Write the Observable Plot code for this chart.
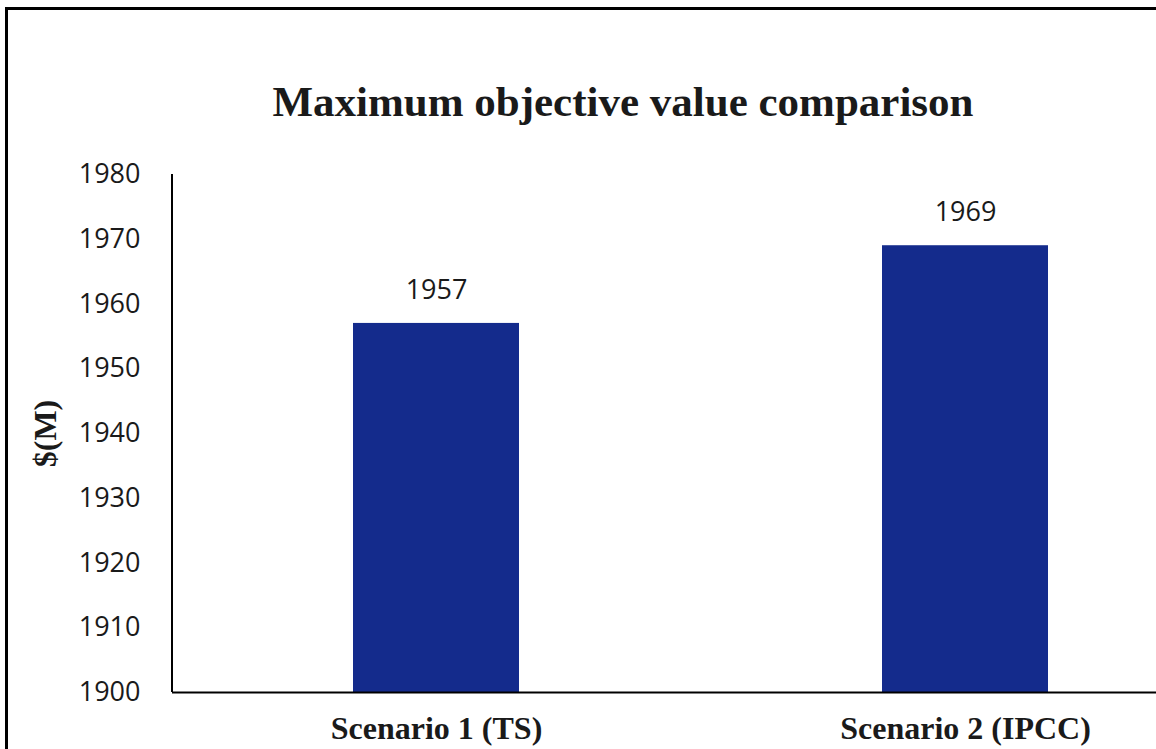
<!DOCTYPE html>
<html>
<head>
<meta charset="utf-8">
<script src="https://cdn.jsdelivr.net/npm/d3@7"></script>
<script src="https://cdn.jsdelivr.net/npm/@observablehq/plot@0.6"></script>
<style>
  html, body { margin: 0; padding: 0; background: #fff; overflow: hidden; width: 1156px; height: 749px; }
  #frame { position: absolute; left: 5px; top: 7px; width: 2000px; height: 2000px; border-left: 3px solid #000; border-top: 3px solid #000; box-sizing: border-box; }
  #title { position: absolute; left: 0; top: 80px; width: 1246px; text-align: center; font: bold 43px/43px "Liberation Serif", "Times New Roman", serif; color: #1a1a1a; white-space: nowrap; }
  #chart { position: absolute; left: 0; top: 150px; }
</style>
</head>
<body>
<div id="frame"></div>
<div id="title">Maximum objective value comparison</div>
<div id="chart"></div>
<script>
const categories = ["Scenario 1 (TS)", "Scenario 2 (IPCC)"];
const values = [1957, 1969];
const yTicks = [1900, 1910, 1920, 1930, 1940, 1950, 1960, 1970, 1980];
const yLabel = "$(M)";

const data = categories.map((c, i) => ({category: c, value: values[i]}));
const yMin = yTicks[0], yMax = yTicks[yTicks.length - 1];

const axisLine = (index, scales, values, dimensions) => {
  const x0 = dimensions.marginLeft;
  return d3.create("svg:line")
    .attr("x1", x0).attr("x2", x0)
    .attr("y1", scales.y(yMax)).attr("y2", scales.y(yMin))
    .attr("stroke", "#000").attr("stroke-width", 2)
    .node();
};

const plot = Plot.plot({
  width: 1156,
  height: 599,
  marginTop: 24,
  marginBottom: 57,
  marginLeft: 172,
  marginRight: 0,
  style: {fontFamily: "'Open Sans', sans-serif", color: "#1a1a1a", background: "transparent", overflow: "visible"},
  x: {domain: categories, range: [172, 1229], paddingInner: 0.686, paddingOuter: 0.342, label: null},
  y: {domain: [yMin, yMax], ticks: yTicks, label: null},
  marks: [
    Plot.barY(data, {x: "category", y1: () => yMin, y2: "value", fill: "#142b8c"}),
    Plot.ruleY([yMin], {stroke: "#000", strokeWidth: 2}),
    axisLine,
    Plot.axisY({ticks: yTicks, tickSize: 0, tickPadding: 32, fontSize: 27, tickFormat: d => String(d), label: null}),
    Plot.axisX({tickSize: 0, tickPadding: 24, fontSize: 32, fontWeight: "bold", fontFamily: "'Liberation Serif', 'Times New Roman', serif", label: null}),
    Plot.text(data, {x: "category", y: "value", text: d => String(d.value), dy: -33, fontSize: 27, fill: "#1a1a1a"}),
    Plot.text([yLabel], {text: d => d, frameAnchor: "left", textAnchor: "middle", dx: -127, rotate: -90, fontSize: 32, fontWeight: "bold", fontFamily: "'Liberation Serif', 'Times New Roman', serif", fill: "#1a1a1a"})
  ]
});
document.getElementById("chart").appendChild(plot);
</script>
</body>
</html>
